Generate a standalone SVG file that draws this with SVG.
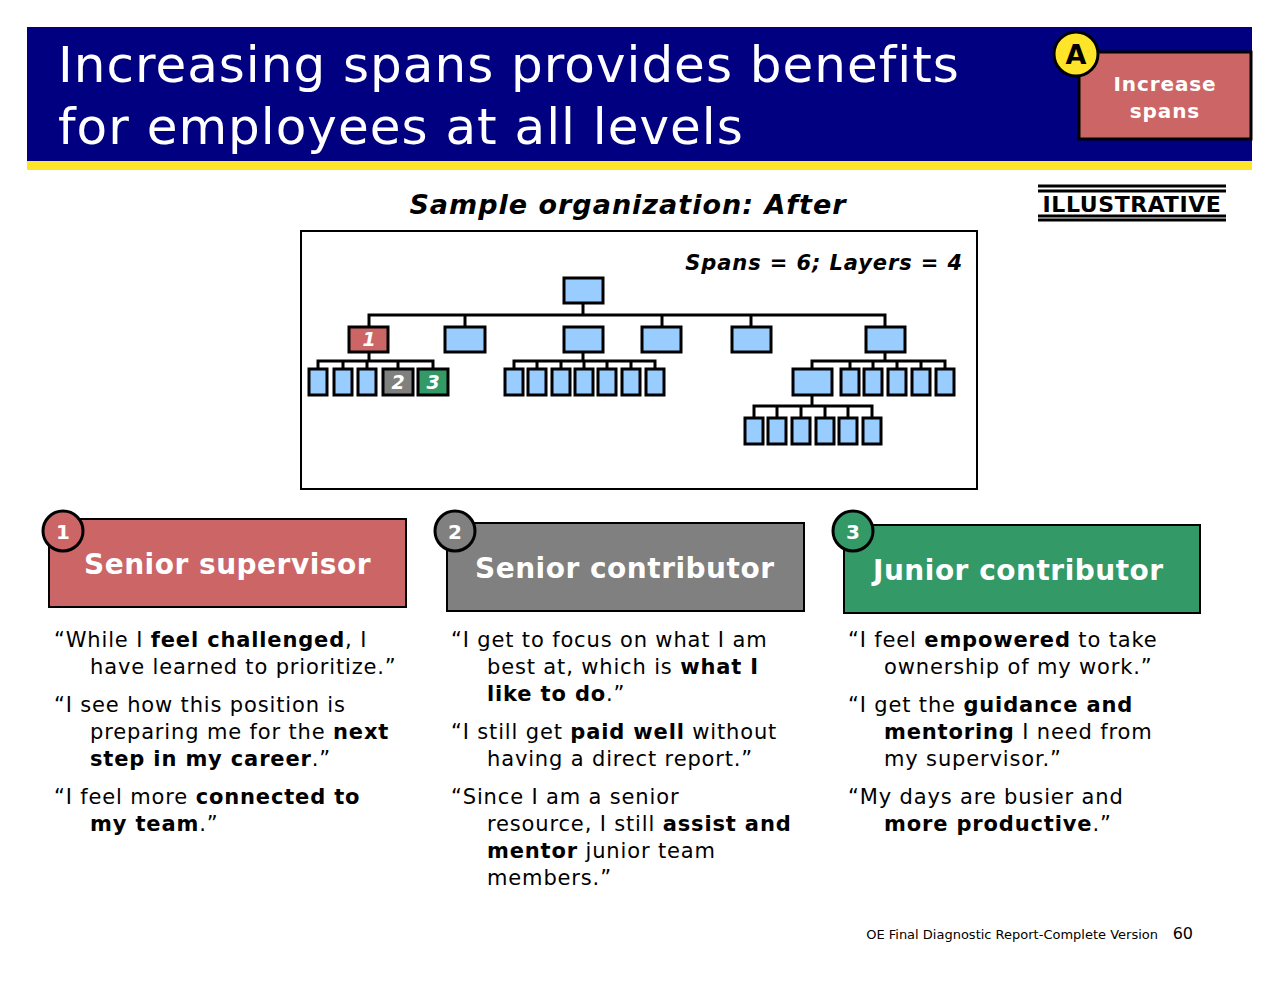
<svg xmlns="http://www.w3.org/2000/svg" width="1280" height="990" viewBox="0 0 1280 990">
<style>
text{font-family:"DejaVu Sans",Verdana,sans-serif}
.b{fill:#99CCFF;stroke:#000;stroke-width:3}
.l{stroke:#000;stroke-width:3;fill:none}
.q{font-size:21px;fill:#000;letter-spacing:0.85px}
.h{font-size:28px;font-weight:bold;fill:#fff;letter-spacing:0.5px}
.n{font-size:20px;font-weight:bold;fill:#fff;text-anchor:middle}
.w{font-size:19px;font-weight:bold;font-style:italic;fill:#fff;text-anchor:middle}
</style>
<rect width="1280" height="990" fill="#fff"/>
<rect x="27" y="27" width="1225" height="134" fill="#000080"/>
<rect x="27" y="161" width="1225" height="9" fill="#FFE42A"/>
<text x="58" y="82" font-size="50" fill="#fff" letter-spacing="1">Increasing spans provides benefits</text>
<text x="58" y="144" font-size="50" fill="#fff" letter-spacing="1">for employees at all levels</text>
<g id="increase"><rect x="1079" y="52" width="172" height="87" fill="#CC6666" stroke="#000" stroke-width="3"/>
<text x="1165" y="91" class="n" font-size="22" letter-spacing="0.9">Increase</text><text x="1165" y="118" class="n" font-size="22" letter-spacing="0.9">spans</text>
<circle cx="1076" cy="54" r="22" fill="#FFE42A" stroke="#000" stroke-width="3"/>
<text x="1076" y="64" font-size="27" font-weight="bold" text-anchor="middle">A</text></g>
<g id="illustrative"><line x1="1038" y1="186" x2="1226" y2="186" class="l" stroke-width="2"/><line x1="1038" y1="191" x2="1226" y2="191" class="l" stroke-width="1.5"/>
<text x="1132" y="212" font-size="22" font-weight="bold" text-anchor="middle" letter-spacing="0.6">ILLUSTRATIVE</text>
<line x1="1038" y1="216" x2="1226" y2="216" class="l" stroke-width="2"/><line x1="1038" y1="220" x2="1226" y2="220" class="l" stroke-width="1.5"/></g>
<text x="628" y="214" font-size="27" font-weight="bold" font-style="italic" text-anchor="middle" letter-spacing="1">Sample organization: After</text>
<g id="orgchart">
<rect x="301" y="231" width="676" height="258" fill="#fff" stroke="#000" stroke-width="2"/>
<text x="963" y="270" font-size="21" font-weight="bold" font-style="italic" text-anchor="end" letter-spacing="0.9">Spans = 6; Layers = 4</text>
<g id="connectors">
<path class="l" d="M583 303V315M369 327V315H885V327M465 315V327M662 315V327M751 315V327"/>
<path class="l" d="M369 352V361M318 369V361H433V369M343 361V369M367 361V369M398 361V369"/>
<path class="l" d="M583 352V361M514 369V361H655V369M537 361V369M561 361V369M584 361V369M607 361V369M631 361V369"/>
<path class="l" d="M885 352V361M812 369V361H945V369M850 361V369M873 361V369M897 361V369M921 361V369"/>
<path class="l" d="M812 395V406M754 418V406H872V418M777 406V418M801 406V418M825 406V418M848 406V418"/>
</g>
<rect class="b" x="564" y="278" width="39" height="25"/>
<rect x="349" y="327" width="39" height="25" fill="#CC6666" stroke="#000" stroke-width="3"/><text x="369" y="346" class="w">1</text>
<rect class="b" x="445" y="327" width="40" height="25"/><rect class="b" x="564" y="327" width="39" height="25"/>
<rect class="b" x="642" y="327" width="39" height="25"/><rect class="b" x="732" y="327" width="39" height="25"/><rect class="b" x="866" y="327" width="39" height="25"/>
<rect class="b" x="309" y="369" width="18" height="26"/><rect class="b" x="334" y="369" width="18" height="26"/><rect class="b" x="358" y="369" width="18" height="26"/>
<rect x="383" y="369" width="30" height="26" fill="#808080" stroke="#000" stroke-width="3"/><text x="398" y="389" class="w">2</text>
<rect x="418" y="369" width="30" height="26" fill="#339966" stroke="#000" stroke-width="3"/><text x="433" y="389" class="w">3</text>
<rect class="b" x="505" y="369" width="18" height="26"/><rect class="b" x="528" y="369" width="18" height="26"/><rect class="b" x="552" y="369" width="18" height="26"/><rect class="b" x="575" y="369" width="18" height="26"/><rect class="b" x="598" y="369" width="18" height="26"/><rect class="b" x="622" y="369" width="18" height="26"/><rect class="b" x="646" y="369" width="18" height="26"/>
<rect class="b" x="793" y="369" width="39" height="26"/>
<rect class="b" x="841" y="369" width="18" height="26"/><rect class="b" x="864" y="369" width="18" height="26"/><rect class="b" x="888" y="369" width="18" height="26"/><rect class="b" x="912" y="369" width="18" height="26"/><rect class="b" x="936" y="369" width="18" height="26"/>
<rect class="b" x="745" y="418" width="18" height="26"/><rect class="b" x="768" y="418" width="18" height="26"/><rect class="b" x="792" y="418" width="18" height="26"/><rect class="b" x="816" y="418" width="18" height="26"/><rect class="b" x="839" y="418" width="18" height="26"/><rect class="b" x="863" y="418" width="18" height="26"/>
</g>
<g id="card1"><rect x="49" y="519" width="357" height="88" fill="#CC6666" stroke="#000" stroke-width="2"/>
<text x="84" y="574" class="h">Senior supervisor</text>
<circle cx="63" cy="531" r="20" fill="#CC6666" stroke="#000" stroke-width="3"/><text x="63" y="539" class="n">1</text></g>
<g id="card2"><rect x="447" y="523" width="357" height="88" fill="#808080" stroke="#000" stroke-width="2"/>
<text x="475" y="578" class="h">Senior contributor</text>
<circle cx="455" cy="531" r="20" fill="#808080" stroke="#000" stroke-width="3"/><text x="455" y="539" class="n">2</text></g>
<g id="card3"><rect x="844" y="525" width="356" height="88" fill="#339966" stroke="#000" stroke-width="2"/>
<text x="873" y="580" class="h">Junior contributor</text>
<circle cx="853" cy="531" r="20" fill="#339966" stroke="#000" stroke-width="3"/><text x="853" y="539" class="n">3</text></g>
<g id="quotes1">
<text class="q" x="54" y="647">“While I <tspan font-weight="bold">feel challenged</tspan>, I</text>
<text class="q" x="90" y="674">have learned to prioritize.”</text>
<text class="q" x="54" y="712">“I see how this position is</text>
<text class="q" x="90" y="739">preparing me for the <tspan font-weight="bold">next</tspan></text>
<text class="q" x="90" y="766"><tspan font-weight="bold">step in my career</tspan>.”</text>
<text class="q" x="54" y="804">“I feel more <tspan font-weight="bold">connected to</tspan></text>
<text class="q" x="90" y="831"><tspan font-weight="bold">my team</tspan>.”</text>
</g>
<g id="quotes2">
<text class="q" x="451" y="647">“I get to focus on what I am</text>
<text class="q" x="487" y="674">best at, which is <tspan font-weight="bold">what I</tspan></text>
<text class="q" x="487" y="701"><tspan font-weight="bold">like to do</tspan>.”</text>
<text class="q" x="451" y="739">“I still get <tspan font-weight="bold">paid well</tspan> without</text>
<text class="q" x="487" y="766">having a direct report.”</text>
<text class="q" x="451" y="804">“Since I am a senior</text>
<text class="q" x="487" y="831">resource, I still <tspan font-weight="bold">assist and</tspan></text>
<text class="q" x="487" y="858"><tspan font-weight="bold">mentor</tspan> junior team</text>
<text class="q" x="487" y="885">members.”</text>
</g>
<g id="quotes3">
<text class="q" x="848" y="647">“I feel <tspan font-weight="bold">empowered</tspan> to take</text>
<text class="q" x="884" y="674">ownership of my work.”</text>
<text class="q" x="848" y="712">“I get the <tspan font-weight="bold">guidance and</tspan></text>
<text class="q" x="884" y="739"><tspan font-weight="bold">mentoring</tspan> I need from</text>
<text class="q" x="884" y="766">my supervisor.”</text>
<text class="q" x="848" y="804">“My days are busier and</text>
<text class="q" x="884" y="831"><tspan font-weight="bold">more productive</tspan>.”</text>
</g>
<text x="1158" y="939" font-size="13" text-anchor="end">OE Final Diagnostic Report-Complete Version</text>
<text x="1193" y="939" font-size="16" text-anchor="end">60</text>
</svg>
